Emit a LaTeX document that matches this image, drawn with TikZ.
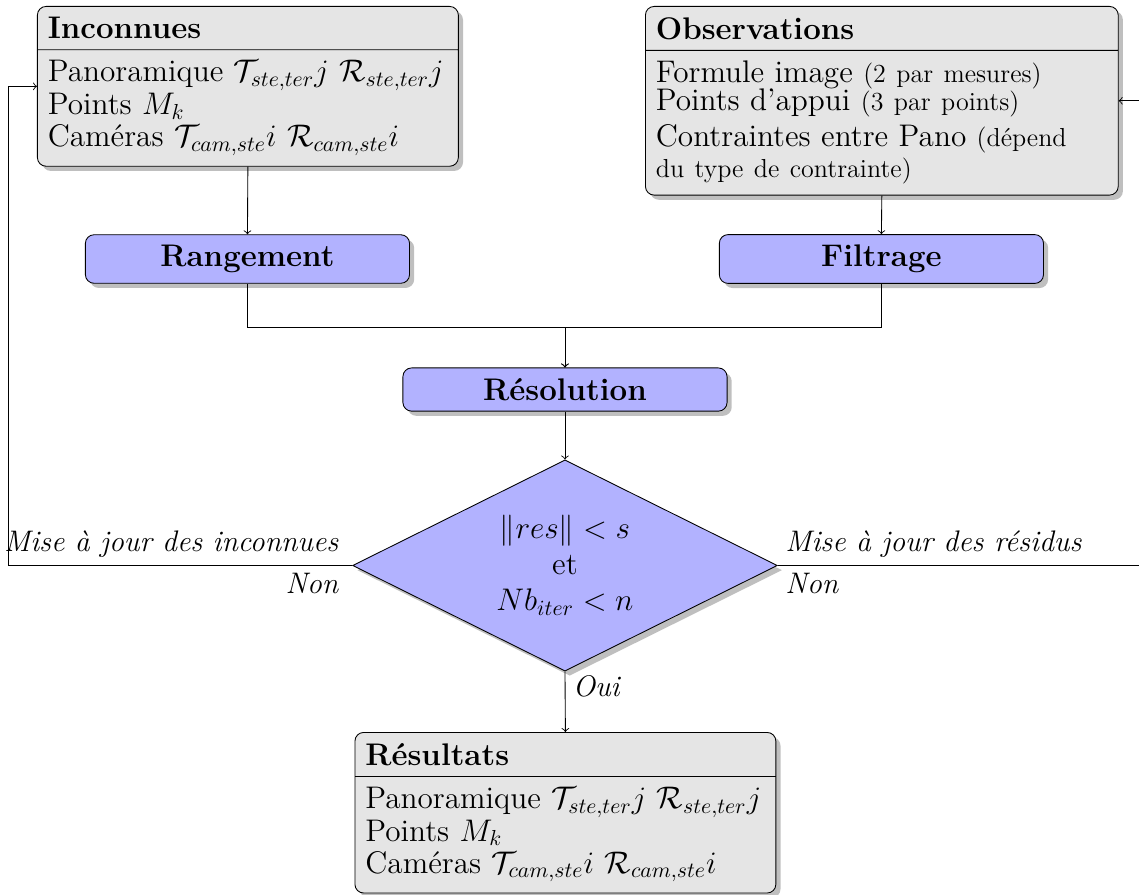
\documentclass[tikz,border=0pt]{standalone}
\usepackage{amsmath}
\usepackage{amssymb}
\usepackage{xcolor}
\usepackage{tikz}
\usetikzlibrary{shapes.multipart,shapes.geometric,shadows,calc}

\begin{document}
\begin{tikzpicture}[
        bloc/.style={rectangle split, rectangle split parts=2, draw, rounded corners, fill=gray!20, drop shadow, text width=6.48cm, inner sep=4.8pt, align=left, anchor=north west, font=\fontsize{14.4}{12}\selectfont},
        etape/.style={rectangle, draw, rounded corners, fill=blue!30, drop shadow, minimum width=5.25cm, inner sep=4.8pt, font=\Large\bfseries},
        test/.style={diamond, draw, fill=blue!30, drop shadow, aspect=2, minimum width=6.88cm, minimum height=3.42cm, align=center, font=\fontsize{14.4}{16.6}\selectfont},
        fleche/.style={->},
        lbl/.style={font=\fontsize{13.7}{16}\selectfont\itshape}]
        \useasboundingbox (0,0) rectangle (18.448,-14.480);
        \node[bloc] (inc) at (0.599,-0.097) {\textbf{Inconnues}\nodepart{two}Panoramique $\mathcal{T}_{ste,ter}j$ $\mathcal{R}_{ste,ter}j$\\ Points $M_k$\\[1.5pt] Caméras $\mathcal{T}_{cam,ste}i$ $\mathcal{R}_{cam,ste}i$};
        \node[bloc, text width=7.32cm] (obs) at (10.447,-0.097) {\textbf{Observations}\nodepart{two}\lineskiplimit=-100pt Formule image {\large (2 par mesures)}\\[0.9pt] Points d'appui {\large (3 par points)}\\[2.3pt] Contraintes entre Pano {\large (dépend\\[1.5pt] du type de contrainte)}};
        \node[etape] (rang) at (4.008,-4.195) {Rangement};
        \node[etape] (filt) at (14.276,-4.195) {Filtrage};
        \node[etape] (resol) at (9.151,-6.309) {Résolution};
        \node[test] (test) at (9.151,-9.159) {$\|res\| < s$\\ et\\ $Nb_{iter} < n$};
        \node[bloc] (res) at (5.742,-11.856) {\textbf{Résultats}\nodepart{two}Panoramique $\mathcal{T}_{ste,ter}j$ $\mathcal{R}_{ste,ter}j$\\ Points $M_k$\\[1.5pt] Caméras $\mathcal{T}_{cam,ste}i$ $\mathcal{R}_{cam,ste}i$};
        \coordinate (merge) at (9.151,-5.296);
        \coordinate (gauche) at (0.13,-9.159);
        \coordinate (droite) at (18.55,-9.159);
        \draw[fleche] (inc.south) -- (rang.north);
        \draw[fleche] (obs.south) -- (filt.north);
        \draw[fleche] (rang.south) |- (merge) -- (resol.north);
        \draw[fleche] (filt.south) |- (merge) -- (resol.north);
        \draw[fleche] (resol.south) -- (test.north);
        \draw[fleche] (test.south) -- node[lbl, right, near start] {Oui} (res.north);
        \draw[fleche] (test.west) -- node[lbl, above left, pos=0, xshift=-1mm] {Mise à jour des inconnues} node[lbl, below left, pos=0, xshift=-1mm] {Non} (gauche) |- (inc.west);
        \draw[fleche] (test.east) -- node[lbl, above right, pos=0] {Mise à jour des résidus} node[lbl, below right, pos=0] {Non} (droite) |- (obs.east);
\end{tikzpicture}
\end{document}
